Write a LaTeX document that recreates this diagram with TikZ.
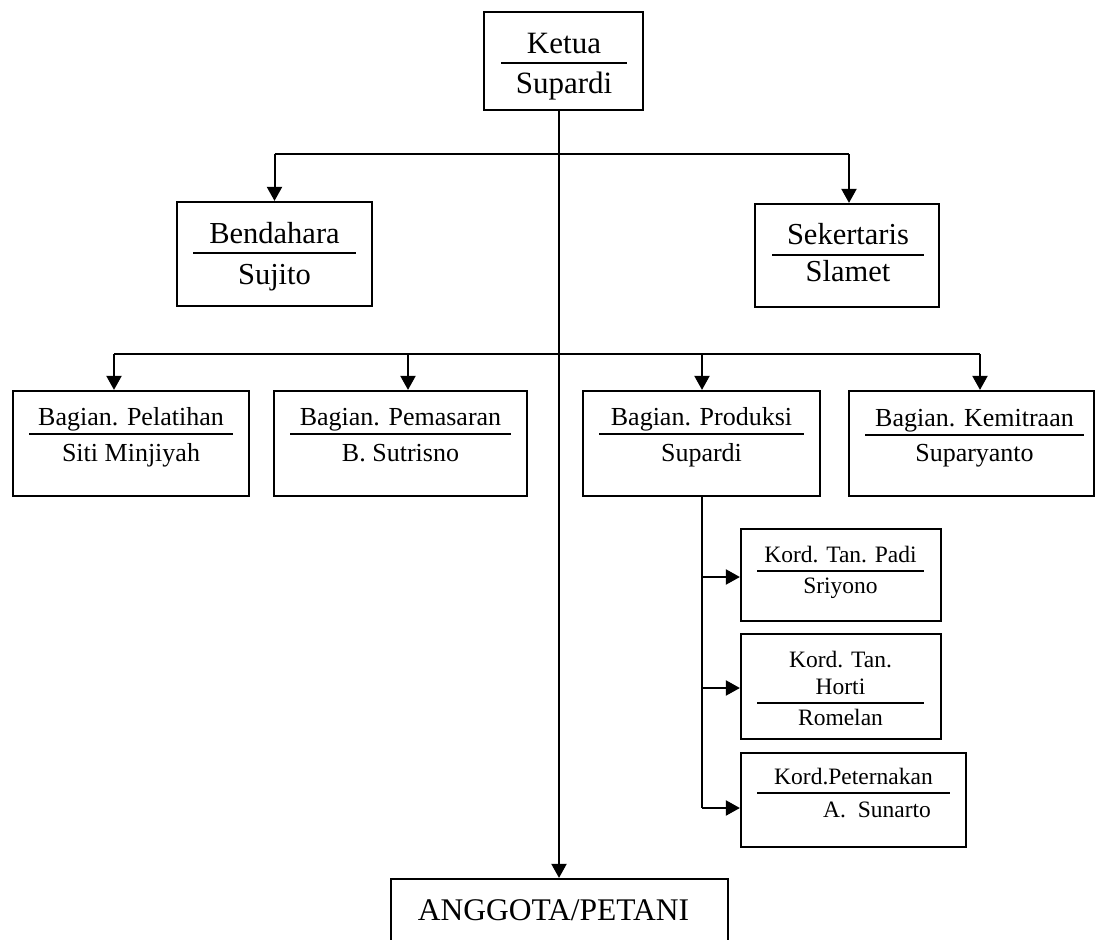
\documentclass[tikz,border=0pt]{standalone}
\usepackage{fontspec}
\setmainfont{Liberation Serif}
\usetikzlibrary{arrows.meta}
\begin{document}
\begin{tikzpicture}[x=1pt,y=-1pt,
  box/.style={draw, line width=2.2pt, inner sep=0pt, rectangle},
  bx/.style 2 args={box, minimum width=#1, minimum height=#2},
  t/.style={anchor=base, inner sep=0pt},
  fA/.style={font=\fontsize{31}{37}\selectfont},
  fB/.style={font=\fontsize{30.5}{36}\selectfont},
  fC/.style={font=\fontsize{26}{31}\selectfont},
  fD/.style={font=\fontsize{23.5}{28}\selectfont},
  rule/.style={line width=2pt},
  ln/.style={line width=2pt},
  arr/.style={line width=2pt, -{Triangle[length=14pt,width=15pt]}}]
\useasboundingbox (0,0) rectangle (1096,940);
\clip (0,0) rectangle (1096,940);

% boxes
\node[bx={159pt}{98pt}] (ketua) at (563.5,61) {};
\node[bx={195pt}{104pt}] (bendahara) at (274.5,254) {};
\node[bx={184pt}{103pt}] (sekertaris) at (847,255.5) {};
\node[bx={236pt}{105pt}] (pelatihan) at (131,443.5) {};
\node[bx={253pt}{105pt}] (pemasaran) at (400.5,443.5) {};
\node[bx={237pt}{105pt}] (produksi) at (701.5,443.5) {};
\node[bx={245pt}{105pt}] (kemitraan) at (971.5,443.5) {};
\node[bx={200pt}{92pt}] (padi) at (841,575) {};
\node[bx={200pt}{105pt}] (horti) at (841,686.5) {};
\node[bx={225pt}{94pt}] (peternakan) at (853.5,800) {};
\node[bx={337pt}{81pt}] (anggota) at (559.5,919.5) {};

% texts
\node[t,fA] (t1) at (564,53) {Ketua};
\draw[rule] (501,63) -- (627,63);
\node[t,fA] (n1) at (564,93) {Supardi};

\node[t,fB] (t2) at (274.5,243) {Bendahara};
\draw[rule] (193,253) -- (356,253);
\node[t,fB] (n2) at (274.5,284) {Sujito};

\node[t,fB] (t3) at (848,244) {Sekertaris};
\draw[rule] (772,255) -- (924,255);
\node[t,fB] (n3) at (848,281) {Slamet};

\node[t,fC] (t4) at (131,425) {Bagian. Pelatihan};
\draw[rule] (29,434) -- (233,434);
\node[t,fC] (n4) at (131,461) {Siti Minjiyah};

\node[t,fC] (t5) at (400.5,425) {Bagian. Pemasaran};
\draw[rule] (290,434) -- (511,434);
\node[t,fC] (n5) at (400.5,461) {B. Sutrisno};

\node[t,fC] (t6) at (701.5,425) {Bagian. Produksi};
\draw[rule] (599,434) -- (804,434);
\node[t,fC] (n6) at (701.5,461) {Supardi};

\node[t,fC] (t7) at (974.5,426) {Bagian. Kemitraan};
\draw[rule] (865,435) -- (1084,435);
\node[t,fC] (n7) at (974.5,461) {Suparyanto};

\node[t,fD] (t8) at (840.5,562) {Kord. Tan. Padi};
\draw[rule] (757,571) -- (924,571);
\node[t,fD] (n8) at (840.5,593) {Sriyono};

\node[t,fD] (t9a) at (840.5,667) {Kord. Tan.};
\node[t,fD] (t9b) at (840.5,694) {Horti};
\draw[rule] (757,703) -- (924,703);
\node[t,fD] (n9) at (840.5,725) {Romelan};

\node[t,fD] (t10) at (853.5,784) {Kord.Peternakan};
\draw[rule] (757,793) -- (950,793);
\node[t,fD,anchor=base west] (n10) at (823,817) {A.\ \ Sunarto};

\node[t,font=\fontsize{31.5}{38}\selectfont] (t11) at (553.5,920) {ANGGOTA/PETANI};

% connectors
\coordinate (k) at (559,110);
\coordinate (j1) at (559,154);
\coordinate (j2) at (559,354);
\draw[arr] (k) -- (k |- anggota.north);
\draw[ln] (274.5,154) -- (849,154);
\draw[arr] (274.5,154) -- (274.5,154 |- bendahara.north);
\draw[arr] (849,154) -- (849,154 |- sekertaris.north);

\coordinate (a1) at (114,354);
\coordinate (a2) at (408,354);
\coordinate (a3) at (702,354);
\coordinate (a4) at (980,354);
\draw[ln] (a1) -- (a4);
\draw[arr] (a1) -- (a1 |- pelatihan.north);
\draw[arr] (a2) -- (a2 |- pemasaran.north);
\draw[arr] (a3) -- (a3 |- produksi.north);
\draw[arr] (a4) -- (a4 |- kemitraan.north);

\coordinate (p) at (702,496);
\coordinate (b1) at (702,577);
\coordinate (b2) at (702,688);
\coordinate (b3) at (702,808);
\draw[ln] (p) -- (b3);
\draw[arr] (b1) -- (b1 -| padi.west);
\draw[arr] (b2) -- (b2 -| horti.west);
\draw[arr] (b3) -- (b3 -| peternakan.west);
\end{tikzpicture}
\end{document}
